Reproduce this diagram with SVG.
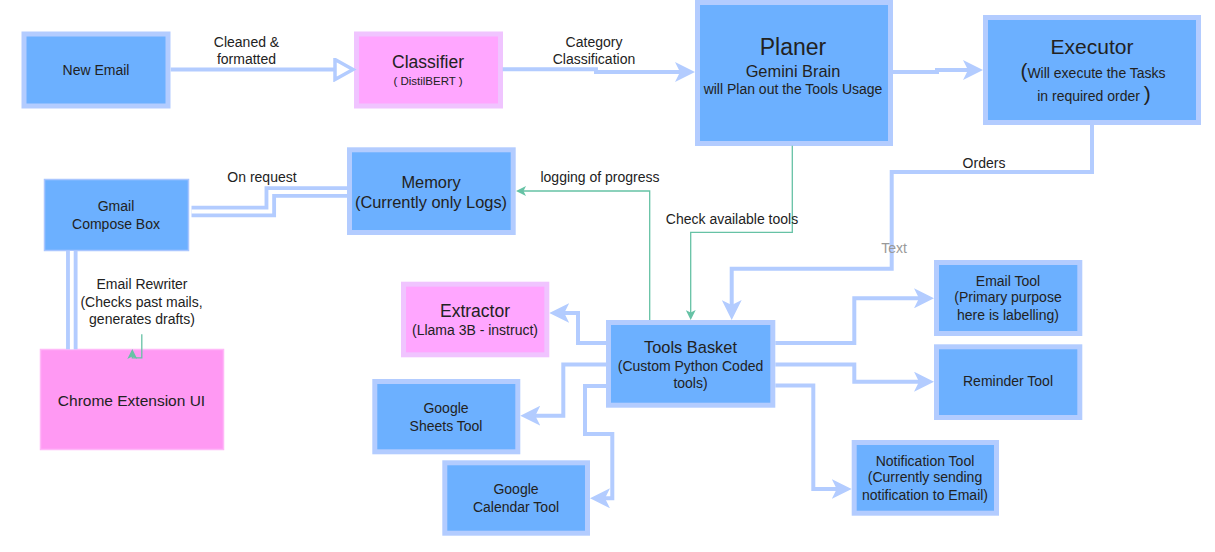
<svg xmlns="http://www.w3.org/2000/svg" width="1215" height="552" viewBox="0 0 1215 552">
<defs>
<style>
.t{font-family:"Liberation Sans",Arial,sans-serif;fill:#222;text-anchor:middle}
.s14{font-size:14px}
.blue{fill:#6CB0FF;stroke:#B3CCFF;stroke-width:5}
.pink{fill:#FFA6FF;stroke:#F0C4FF;stroke-width:5}
.thinb{fill:#6CB0FF;stroke:#A9C6FF;stroke-width:1.5}
.thinp{fill:#FF99F3;stroke:#FFB8F8;stroke-width:1.5}
.c{fill:none;stroke:#B3CCFF;stroke-width:4;stroke-linejoin:miter}
.g{fill:none;stroke:#66C2A5;stroke-width:1.3}
.dbl{fill:none;stroke:#B3CCFF;stroke-width:11.5}
.dbli{fill:none;stroke:#FFFFFF;stroke-width:3.8}
</style>
<marker id="ab" markerUnits="userSpaceOnUse" viewBox="0 0 20 20" markerWidth="20" markerHeight="20" refX="6" refY="10" orient="auto">
<path d="M0,0 L20,10 L0,20 L5,10 Z" fill="#B3CCFF"/>
</marker>
<marker id="ag" markerUnits="userSpaceOnUse" viewBox="0 0 10 10" markerWidth="10" markerHeight="10" refX="3" refY="5" orient="auto">
<path d="M0,0 L10,5 L0,10 L2.5,5 Z" fill="#66C2A5"/>
</marker>
<marker id="ao" markerUnits="userSpaceOnUse" viewBox="-2 -2 24 24" markerWidth="24" markerHeight="24" refX="0" refY="10" orient="auto">
<path d="M0,0 L18,10 L0,20 Z" fill="#FFFFFF" stroke="#B3CCFF" stroke-width="3.5"/>
</marker>
</defs>
<rect width="1215" height="552" fill="#FFFFFF"/>

<g id="new-email">
<rect class="blue" x="24" y="34" width="144" height="72"/>
<text class="t s14" x="96" y="74.5">New Email</text>
</g>
<g id="classifier">
<rect class="pink" x="356.5" y="34" width="144" height="72"/>
<text class="t" x="428" y="67.8" style="font-size:17.5px">Classifier</text>
<text class="t" x="428" y="85" style="font-size:11.5px">( DistilBERT )</text>
</g>
<g id="planer">
<rect class="blue" x="697.5" y="2.5" width="193" height="141"/>
<text class="t" x="793" y="55" style="font-size:23px">Planer</text>
<text class="t" x="793" y="76.7" style="font-size:16.4px">Gemini Brain</text>
<text class="t s14" x="793" y="94">will Plan out the Tools Usage</text>
</g>
<g id="executor">
<rect class="blue" x="985.5" y="17.5" width="213" height="105"/>
<text class="t" x="1092" y="54" style="font-size:21px">Executor</text>
<text class="t s14" x="1093" y="77.7"><tspan style="font-size:21px">(</tspan>Will execute the Tasks</text>
<text class="t s14" x="1094" y="101">in required order <tspan style="font-size:21px">)</tspan></text>
</g>
<g id="memory">
<rect class="blue" x="349.5" y="149.8" width="163.7" height="82.7"/>
<text class="t" x="431" y="187.5" style="font-size:16.4px">Memory</text>
<text class="t" x="431" y="208" style="font-size:16.4px">(Currently only Logs)</text>
</g>
<g id="gmail">
<rect class="thinb" x="44.5" y="179.5" width="144" height="71"/>
<text class="t s14" x="116" y="211">Gmail</text>
<text class="t s14" x="116" y="229.3">Compose Box</text>
</g>
<g id="chrome-extension">
<rect class="thinp" x="40.5" y="349.5" width="183" height="100"/>
<text class="t" x="131.5" y="405.8" style="font-size:15.5px">Chrome Extension UI</text>
</g>
<g id="extractor">
<rect class="pink" x="403.5" y="284.2" width="143.3" height="70.6"/>
<text class="t" x="475" y="317.2" style="font-size:17.5px">Extractor</text>
<text class="t s14" x="475" y="335">(Llama 3B - instruct)</text>
</g>
<g id="tools-basket">
<rect class="blue" x="608.5" y="322.5" width="164.3" height="82.7"/>
<text class="t" x="690.5" y="353" style="font-size:16.4px">Tools Basket</text>
<text class="t s14" x="690.5" y="371">(Custom Python Coded</text>
<text class="t s14" x="690.5" y="388.3">tools)</text>
</g>
<g id="google-sheets">
<rect class="blue" x="374.8" y="381.5" width="143" height="70.3"/>
<text class="t s14" x="446" y="413.3">Google</text>
<text class="t s14" x="446" y="431">Sheets Tool</text>
</g>
<g id="google-calendar">
<rect class="blue" x="444.8" y="462.8" width="142.7" height="70.4"/>
<text class="t s14" x="516" y="494">Google</text>
<text class="t s14" x="516" y="511.7">Calendar Tool</text>
</g>
<g id="notification-tool">
<rect class="blue" x="854.2" y="442.5" width="142.3" height="70.7"/>
<text class="t s14" x="925" y="466">Notification Tool</text>
<text class="t s14" x="925" y="482.3">(Currently sending</text>
<text class="t s14" x="925" y="500.3">notification to Email)</text>
</g>
<g id="email-tool">
<rect class="blue" x="936.5" y="262.5" width="143.3" height="71"/>
<text class="t s14" x="1008" y="286">Email Tool</text>
<text class="t s14" x="1008" y="302.3">(Primary purpose</text>
<text class="t s14" x="1008" y="320">here is labelling)</text>
</g>
<g id="reminder-tool">
<rect class="blue" x="936.5" y="346.8" width="143.3" height="70.7"/>
<text class="t s14" x="1008" y="386">Reminder Tool</text>
</g>

<g id="connectors">
<path class="c" d="M170.7 69.5 H335" marker-end="url(#ao)"/>
<path class="c" d="M502.7 69.3 H596 V72 H681" marker-end="url(#ab)"/>
<path class="c" d="M893 72 H937 V70 H969" marker-end="url(#ab)"/>
<path class="c" d="M1092 125 V172 H891.7 V268.7 H731.7 V306" marker-end="url(#ab)"/>
<path class="g" d="M792.3 145.7 V232.3 H690.7 V313" marker-end="url(#ag)"/>
<path class="g" d="M649.7 320 V191 H523" marker-end="url(#ag)"/>
<path class="c" d="M606 343 H578 V313 H563.3" marker-end="url(#ab)"/>
<path class="c" d="M606 364.5 H563.3 V415.7 H534.3" marker-end="url(#ab)"/>
<path class="c" d="M606 386 H585 V434 H612.3 V498.3 H604" marker-end="url(#ab)"/>
<path class="c" d="M775.3 385.5 H813.3 V489 H837.7" marker-end="url(#ab)"/>
<path class="c" d="M775.3 343 H854.3 V298.3 H920" marker-end="url(#ab)"/>
<path class="c" d="M775.3 364.5 H854.3 V381.7 H920" marker-end="url(#ab)"/>
<path class="dbl" d="M191.5 211.5 H270.3 V192 H347"/>
<path class="dbli" d="M191.5 211.5 H270.3 V192 H347"/>
<path class="dbl" d="M71.8 251 V349.3"/>
<path class="dbli" d="M71.8 251 V349.3"/>
<path class="g" d="M141.8 334.3 V357.8 H132.3 V356" marker-end="url(#ag)"/>
<text class="t s14" x="246.5" y="46.6">Cleaned &amp;</text>
<text class="t s14" x="246.5" y="64">formatted</text>
<text class="t s14" x="594" y="46.6">Category</text>
<text class="t s14" x="594" y="64">Classification</text>
<text class="t s14" x="984" y="167.7">Orders</text>
<text class="t s14" x="894" y="253" style="fill:#999">Text</text>
<text class="t s14" x="600" y="182">logging of progress</text>
<text class="t s14" x="732" y="224">Check available tools</text>
<text class="t s14" x="262" y="182.3">On request</text>
<text class="t s14" x="142" y="289">Email Rewriter</text>
<text class="t s14" x="141.5" y="306.7">(Checks past mails,</text>
<text class="t s14" x="142" y="324.3">generates drafts)</text>
</g>
</svg>
